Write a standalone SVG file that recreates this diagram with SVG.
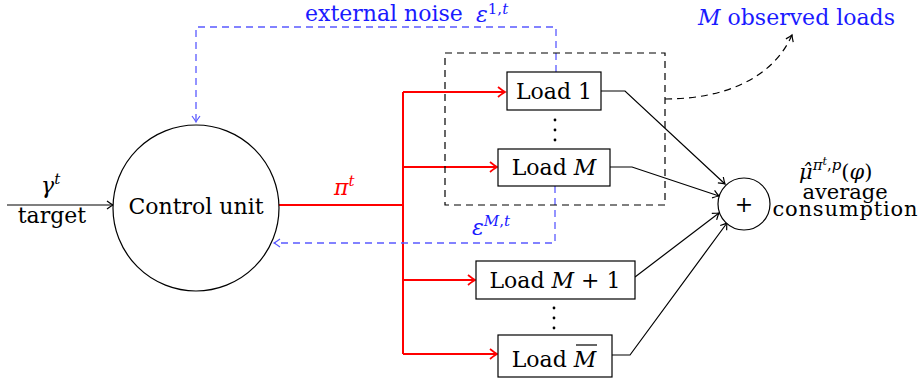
<svg xmlns="http://www.w3.org/2000/svg" width="922" height="383" viewBox="0 0 922 383">
<style>
text{font-family:"DejaVu Serif","Liberation Serif",serif;font-size:22px;fill:#000}
.it{font-style:italic}
.sup{font-size:15px}
.blue{fill:#1a1aff}
.red{fill:#ff0000}
.box{fill:#fff;stroke:#000;stroke-width:1.2}
.ln{fill:none;stroke:#000;stroke-width:1.2}
.rl{fill:none;stroke:#ff0000;stroke-width:2}
.bl{fill:none;stroke:#5a5aff;stroke-width:1.3;stroke-dasharray:7 5}
.dk{fill:none;stroke:#000;stroke-width:1.2;stroke-dasharray:7 5}
.out{font-size:21px}
</style>
<defs>
<marker id="a" viewBox="-8 -6 10 12" refX="0" refY="0" markerWidth="10" markerHeight="12" markerUnits="userSpaceOnUse" orient="auto"><path d="M-6,-4 Q-2,-1 0,0 Q-2,1 -6,4" fill="none" stroke="#000" stroke-width="1.2"/></marker>
<marker id="ar" viewBox="-8 -6 10 12" refX="0" refY="0" markerWidth="10" markerHeight="12" markerUnits="userSpaceOnUse" orient="auto"><path d="M-7,-5 Q-2,-1 0,0 Q-2,1 -7,5" fill="none" stroke="#ff0000" stroke-width="1.8"/></marker>
<marker id="ab" viewBox="-8 -6 10 12" refX="0" refY="0" markerWidth="10" markerHeight="12" markerUnits="userSpaceOnUse" orient="auto"><path d="M-6,-4 Q-2,-1 0,0 Q-2,1 -6,4" fill="none" stroke="#5a5aff" stroke-width="1.2"/></marker>
</defs>

<g id="connectors">
<path class="ln" d="M7,205 H113" marker-end="url(#a)"/>
<path class="rl" d="M279,205 H403"/>
<path class="rl" d="M403,92 V354"/>
<path class="rl" d="M403,92 H505" marker-end="url(#ar)"/>
<path class="rl" d="M403,167 H497" marker-end="url(#ar)"/>
<path class="rl" d="M403,280 H475" marker-end="url(#ar)"/>
<path class="rl" d="M403,354 H497" marker-end="url(#ar)"/>
<path class="ln" d="M601,91 H625 L725,184" marker-end="url(#a)"/>
<path class="ln" d="M610,167 H632 L719,196" marker-end="url(#a)"/>
<path class="ln" d="M635,277 L719,213" marker-end="url(#a)"/>
<path class="ln" d="M612,355 H630 L727,223" marker-end="url(#a)"/>
<path class="bl" d="M556,72 V27 H196 V122" marker-end="url(#ab)"/>
<path class="bl" d="M555,186 V243 H274" marker-end="url(#ab)"/>
<path class="dk" d="M665,99 C722,99 772,80 792,35" marker-end="url(#a)"/>
</g>

<g id="observed-group">
<rect class="dk" x="445" y="53" width="220" height="152"/>
<text x="698" y="25" class="blue"><tspan class="it">M</tspan> observed loads</text>
</g>

<g id="control-unit">
<circle cx="196" cy="208" r="83" fill="#fff" stroke="#000" stroke-width="1.2"/>
<text x="196" y="214" text-anchor="middle">Control unit</text>
</g>

<g id="target">
<text x="41" y="193" class="it">γ<tspan class="sup" dy="-9">t</tspan></text>
<text x="52" y="223" text-anchor="middle">target</text>
</g>

<g id="policy-label">
<text x="334" y="195" class="red it">π<tspan class="sup" dy="-9">t</tspan></text>
</g>

<g id="noise-labels">
<text x="305" y="21" class="blue">external noise</text>
<text x="476" y="22" class="blue it">ε<tspan class="sup" dy="-8" font-style="normal">1,</tspan><tspan class="sup">t</tspan></text>
<text x="472" y="235" class="blue it">ε<tspan class="sup" dy="-9">M</tspan><tspan class="sup" font-style="normal">,</tspan><tspan class="sup">t</tspan></text>
</g>

<g id="load-1">
<rect class="box" x="507" y="72" width="94" height="38"/>
<text x="554" y="99" text-anchor="middle">Load 1</text>
</g>
<g id="dots-1">
<circle cx="555" cy="120" r="1.4"/><circle cx="555" cy="130" r="1.4"/><circle cx="555" cy="140" r="1.4"/>
</g>
<g id="load-M">
<rect class="box" x="498" y="149" width="112" height="37"/>
<text x="554" y="175" text-anchor="middle">Load <tspan class="it">M</tspan></text>
</g>
<g id="load-M1">
<rect class="box" x="476" y="261" width="159" height="38"/>
<text x="555" y="288" text-anchor="middle">Load <tspan class="it">M</tspan> + 1</text>
</g>
<g id="dots-2">
<circle cx="554" cy="308" r="1.4"/><circle cx="554" cy="318" r="1.4"/><circle cx="554" cy="328" r="1.4"/>
</g>
<g id="load-Mbar">
<rect class="box" x="498" y="335" width="114" height="42"/>
<text x="554" y="367" text-anchor="middle">Load <tspan class="it">M</tspan></text>
<line x1="576" y1="345" x2="597" y2="345" stroke="#000" stroke-width="1.2"/>
</g>

<g id="sum">
<circle cx="744" cy="204" r="26" fill="#fff" stroke="#000" stroke-width="1.2"/>
<text x="744" y="212" text-anchor="middle">+</text>
</g>

<g id="output-label">
<text x="799" y="179" class="it out">μ̂<tspan class="sup" dy="-9">π</tspan><tspan font-size="11" dy="-5">t</tspan><tspan class="sup" dy="5" font-style="normal">,</tspan><tspan class="sup">p</tspan><tspan dy="9" font-style="normal">(</tspan>φ<tspan font-style="normal">)</tspan></text>
<text x="845" y="199" text-anchor="middle" class="out">average</text>
<text x="845" y="216" text-anchor="middle" class="out" textLength="145" lengthAdjust="spacing">consumption</text>
</g>
</svg>
